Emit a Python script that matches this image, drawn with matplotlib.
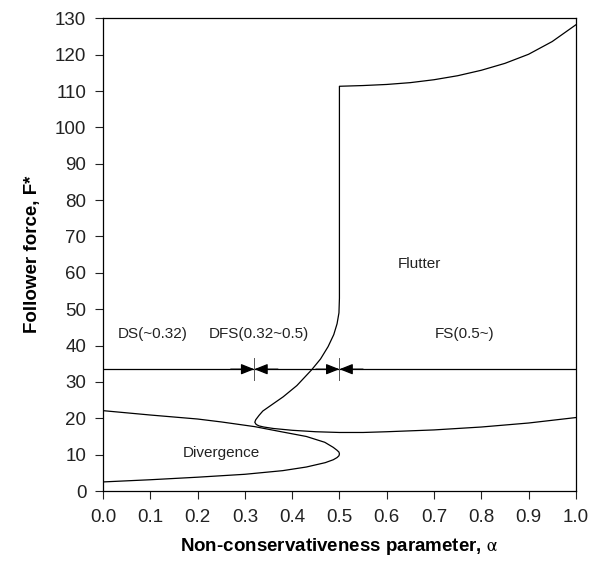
import matplotlib
matplotlib.use("Agg")
import matplotlib.pyplot as plt

plt.rcParams['font.family'] = ['Liberation Sans', 'DejaVu Sans']
plt.rcParams['mathtext.fontset'] = 'stix'

# divergence boundary (closed loop around the nose at alpha=0.5)
div_alpha = [0.0, 0.1, 0.2, 0.3, 0.38, 0.43, 0.47, 0.487, 0.495, 0.499, 0.50, 0.499,
             0.495, 0.487, 0.469, 0.43, 0.377, 0.321, 0.25, 0.2, 0.1, 0.0]
div_force = [2.5, 3.1, 3.8, 4.6, 5.6, 6.6, 7.8, 8.6, 9.2, 9.7, 10.2, 10.7,
             11.2, 12.0, 13.4, 15.0, 16.3, 17.7, 19.0, 19.8, 20.9, 22.1]

# flutter boundary, from alpha=1.0 at the bottom round to the top
flu_alpha = [1.0, 0.9, 0.8, 0.7, 0.6, 0.55, 0.5, 0.45, 0.4, 0.36, 0.34, 0.33,
             0.324, 0.321, 0.323, 0.33, 0.338, 0.36, 0.381, 0.41, 0.441, 0.46,
             0.476, 0.488, 0.495, 0.499, 0.5, 0.5, 0.55, 0.6, 0.65, 0.7, 0.75,
             0.8, 0.85, 0.9, 0.95, 1.0]
flu_force = [20.2, 18.7, 17.6, 16.8, 16.3, 16.1, 16.1, 16.3, 16.7, 17.2, 17.6, 17.9,
             18.3, 18.9, 19.6, 20.8, 22.0, 24.0, 25.9, 29.0, 33.3, 36.3,
             39.7, 43.0, 46.0, 49.0, 53.0, 111.3, 111.5, 111.8, 112.3, 113.1, 114.2,
             115.7, 117.6, 120.1, 123.6, 128.2]

# stability regions along F* = 33.5
level = 33.5
bounds = [0.0, 0.32, 0.5, 1.0]
region_labels = ['DS(~0.32)', 'DFS(0.32~0.5)', 'FS(0.5~)']
label_x = [0.105, 0.33, 0.765]

fig = plt.figure(figsize=(5.9, 5.64), dpi=100)
ax = fig.add_axes([0.1746, 0.1294, 0.8014, 0.8382])

ax.plot(div_alpha, div_force, c='black', lw=0.9)
ax.plot(flu_alpha, flu_force, c='black', lw=0.9)

ax.plot([bounds[0], bounds[-1]], [level, level], c='black', lw=0.9)
for b in bounds[1:-1]:
    ax.plot([b, b], [level - 3, level + 3], c='#555555', lw=0.7)
hd = '-|>,head_length=0.8,head_width=0.32'
for b in bounds[1:-1]:
    for side in (-0.05, 0.05):
        ax.annotate('', xy=(b, level), xytext=(b + side, level),
                    arrowprops=dict(arrowstyle=hd, color='black', lw=0.9,
                                    shrinkA=0, shrinkB=0))

for lx, lab in zip(label_x, region_labels):
    ax.text(lx, 43.3, lab, ha='center', va='center', fontsize=11, color='#222222')
ax.text(0.67, 62.4, 'Flutter', ha='center', va='center', fontsize=11, color='#222222')
ax.text(0.25, 10.5, 'Divergence', ha='center', va='center', fontsize=11, color='#222222')

ax.set_xlim(0, 1.0)
ax.set_ylim(0, 130)
ax.set_xticks([i / 10 for i in range(11)])
ax.set_xticklabels(['%.1f' % (i / 10) for i in range(11)])
ax.set_yticks(range(0, 131, 10))
ax.tick_params(direction='out', length=6, width=0.8, labelsize=13.5, colors='#222222')
ax.tick_params(axis='x', pad=7)
ax.tick_params(axis='y', pad=6)
for s in ax.spines.values():
    s.set_linewidth(0.9)

ax.set_xlabel(r'Non-conservativeness parameter, $\mathrm{\alpha}$', fontsize=13.5,
              fontweight='bold', labelpad=7)
ax.set_ylabel('Follower force, F*', fontsize=13.5, fontweight='bold', labelpad=10)

fig.savefig('out.png', dpi=100)
